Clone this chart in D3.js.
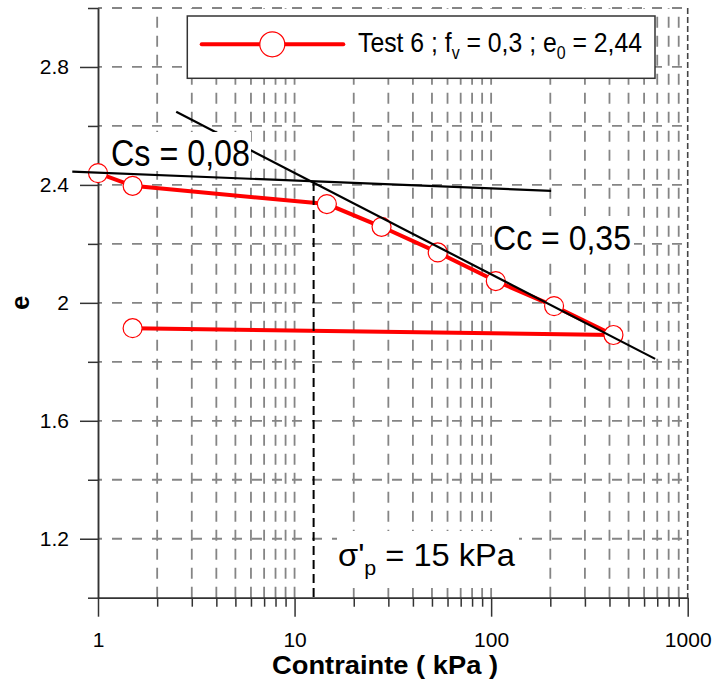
<!DOCTYPE html>
<html><head><meta charset="utf-8">
<script src="https://cdn.jsdelivr.net/npm/d3@7"></script>
<style>body{margin:0;background:#fff}svg{display:block}text{font-family:"Liberation Sans",Arial,sans-serif}</style>
</head><body><svg id="c" width="713" height="684"></svg>
<script>
// ---- data ----
const stress = [1, 1.5, 14.6, 27.7, 53.5, 105.6, 209, 419, 1.5];
const voidRatio = [2.44, 2.397, 2.335, 2.258, 2.171, 2.074, 1.989, 1.891, 1.914];
const csLineX = [0.74, 202];
const csLineE = [2.445, 2.38];
const ccLineX = [2.5, 683];
const ccLineE = [2.648, 1.81];
const sigmaP = 12.5;
const sigmaPE = 2.41;
const yMajorTicks = [1.2, 1.6, 2.0, 2.4, 2.8];
const yMinorTicks = [1.0, 1.4, 1.8, 2.2, 2.6, 3.0];
const yGrid = [1.2, 1.4, 1.6, 1.8, 2.0, 2.2, 2.4, 2.6, 2.8, 3.0];
const xMajorTicks = [1, 10, 100, 1000];
const xMinorTicks = [2,3,4,5,6,7,8,9,20,30,40,50,60,70,80,90,200,300,400,500,600,700,800,900];
const xGrid = [2,3,4,5,6,7,8,9,10,20,30,40,50,60,70,80,90,100,200,300,400,500,600,700,800,900];

const svg = d3.select("#c");
const x = d3.scaleLog().domain([1, 1000]).range([98, 687.7]);
const y = d3.scaleLinear().domain([1, 3]).range([597.7, 8]);

// grid
const g = svg.append("g");
g.selectAll("line.hg").data(yGrid).join("line")
  .attr("x1", x(1)).attr("x2", x(1000)).attr("y1", d => y(d)).attr("y2", d => y(d))
  .attr("stroke", "#858585").attr("stroke-width", 1.8).attr("stroke-dasharray", "10,10").attr("stroke-dashoffset", 6);
g.selectAll("line.vg").data(xGrid).join("line")
  .attr("x1", d => x(d)).attr("x2", d => x(d)).attr("y1", y(1)).attr("y2", y(3))
  .attr("stroke", "#858585").attr("stroke-width", 1.8).attr("stroke-dasharray", "11,8");
// right border
g.append("line").attr("x1", x(1000)).attr("x2", x(1000)).attr("y1", y(3)).attr("y2", y(1))
  .attr("stroke", "#444").attr("stroke-width", 1.6).attr("stroke-dasharray", "6,3");

// axes
const axisStyle = sel => { sel.selectAll("path,line").attr("stroke", "#333").attr("stroke-width", 1.5);
  sel.selectAll("text").attr("font-size", 21).attr("fill", "#000").attr("font-family", '"Liberation Sans",Arial,sans-serif'); };
svg.append("g").attr("transform", `translate(${x(1)},0)`)
  .call(d3.axisLeft(y).tickValues(yMajorTicks).tickSize(18).tickSizeOuter(0).tickPadding(11)
    .tickFormat(d => d === 2 ? "2" : d3.format(".1f")(d))).call(axisStyle);
svg.append("g").attr("transform", `translate(${x(1)},0)`)
  .call(d3.axisLeft(y).tickValues(yMinorTicks).tickSize(10).tickSizeOuter(0).tickFormat("")).call(axisStyle);
svg.append("g").attr("transform", `translate(0,${y(1)})`)
  .call(d3.axisBottom(x).tickValues(xMajorTicks).tickSize(19).tickSizeOuter(0).tickPadding(15.5)
    .tickFormat(d3.format("d"))).call(axisStyle);
svg.append("g").attr("transform", `translate(0,${y(1)})`)
  .call(d3.axisBottom(x).tickValues(xMinorTicks).tickSize(9).tickSizeOuter(0).tickFormat("")).call(axisStyle);

// axis titles
svg.append("text").attr("x", 385).attr("y", 674).attr("text-anchor", "middle")
  .attr("font-size", 26).attr("font-weight", "bold").attr("textLength", 226).attr("lengthAdjust", "spacingAndGlyphs")
  .text("Contrainte ( kPa )");
svg.append("text").attr("transform", `translate(29,${y(2)}) rotate(-90)`).attr("text-anchor", "middle")
  .attr("font-size", 26).attr("font-weight", "bold").text("e");

// data line
const pts = stress.map((s, i) => [s, voidRatio[i]]);
svg.append("path").datum(pts)
  .attr("d", d3.line().x(d => x(d[0])).y(d => y(d[1])))
  .attr("fill", "none").attr("stroke", "#ff0000").attr("stroke-width", 4);
svg.selectAll("circle.pt").data(pts).join("circle")
  .attr("cx", d => x(d[0])).attr("cy", d => y(d[1])).attr("r", 9.5)
  .attr("fill", "#fff").attr("stroke", "#ff0000").attr("stroke-width", 1.2);

// fitted lines
svg.append("line").attr("x1", x(csLineX[0])).attr("y1", y(csLineE[0])).attr("x2", x(csLineX[1])).attr("y2", y(csLineE[1]))
  .attr("stroke", "#000").attr("stroke-width", 2.2);
svg.append("line").attr("x1", x(ccLineX[0])).attr("y1", y(ccLineE[0])).attr("x2", x(ccLineX[1])).attr("y2", y(ccLineE[1]))
  .attr("stroke", "#000").attr("stroke-width", 2.2);
svg.append("line").attr("x1", x(sigmaP)).attr("x2", x(sigmaP)).attr("y1", y(sigmaPE)).attr("y2", y(1))
  .attr("stroke", "#000").attr("stroke-width", 2).attr("stroke-dasharray", "9,5");

// annotations with white background
function label(bx, by, bw, bh) {
  svg.append("rect").attr("x", bx).attr("y", by).attr("width", bw).attr("height", bh).attr("fill", "#fff");
}
label(110, 132, 141, 39);
svg.append("text").attr("x", 111).attr("y", 166).attr("font-size", 36).attr("textLength", 139)
  .attr("lengthAdjust", "spacingAndGlyphs").text("Cs = 0,08");
label(492, 216, 142, 40);
svg.append("text").attr("x", 493).attr("y", 249.5).attr("font-size", 35).attr("textLength", 138)
  .attr("lengthAdjust", "spacingAndGlyphs").text("Cc = 0,35");
label(337, 531, 182, 57);
const st = svg.append("text").attr("x", 338).attr("y", 566).attr("font-size", 32)
  .attr("textLength", 177).attr("lengthAdjust", "spacingAndGlyphs");
st.append("tspan").text("σ'");
st.append("tspan").attr("font-size", 21).attr("dy", 9).text("p");
st.append("tspan").attr("dy", -9).text(" = 15 kPa");

// legend
svg.append("rect").attr("x", 187.3).attr("y", 16).attr("width", 467.7).attr("height", 62.3)
  .attr("fill", "#fff").attr("stroke", "#333").attr("stroke-width", 1.5);
svg.append("line").attr("x1", 201.7).attr("x2", 343.3).attr("y1", 44.3).attr("y2", 44.3)
  .attr("stroke", "#ff0000").attr("stroke-width", 4).attr("stroke-linecap", "round");
svg.append("circle").attr("cx", 272.3).attr("cy", 44.3).attr("r", 12.5)
  .attr("fill", "#fff").attr("stroke", "#ff0000").attr("stroke-width", 1.2);
const lt = svg.append("text").attr("x", 358).attr("y", 52).attr("font-size", 28)
  .attr("textLength", 284).attr("lengthAdjust", "spacingAndGlyphs");
lt.append("tspan").text("Test 6 ; f");
lt.append("tspan").attr("font-size", 18).attr("dy", 7).text("v");
lt.append("tspan").attr("dy", -7).text(" = 0,3 ; e");
lt.append("tspan").attr("font-size", 18).attr("dy", 7).text("0");
lt.append("tspan").attr("dy", -7).text(" = 2,44");
</script></body></html>
